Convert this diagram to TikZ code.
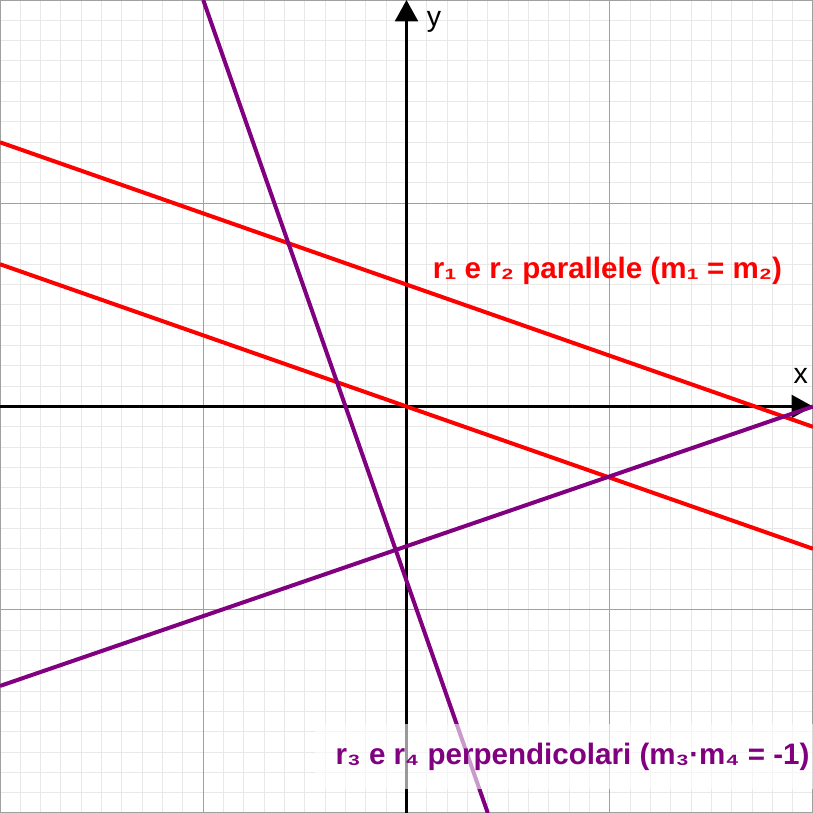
\documentclass[tikz,border=0pt]{standalone}
\usepackage{fontspec}
\setmainfont{Liberation Sans}
\usetikzlibrary{arrows.meta}
\definecolor{redline}{HTML}{FF0000}
\definecolor{purp}{HTML}{800080}
\definecolor{minorgrid}{HTML}{E8E8E8}
\definecolor{majorgrid}{HTML}{A0A0A0}
\tikzset{
  minorg/.style={draw=minorgrid, line width=0.7pt},
  majorg/.style={draw=majorgrid, line width=0.9pt},
  axisline/.style={draw=black, line width=2.1pt, -{Triangle[length=15pt,width=16pt]}},
  redl/.style={draw=redline, line width=2.8pt},
  purl/.style={draw=purp, line width=2.8pt},
  axlabel/.style={font=\fontsize{20}{20}\selectfont, inner sep=0pt},
  lab/.style={font=\bfseries\fontsize{20.7}{20.7}\selectfont, inner sep=0pt, anchor=base west}
}
\begin{document}
\begin{tikzpicture}[x=0.5cm,y=0.5cm]
\useasboundingbox (-20,-20) rectangle (20,20);
\begin{scope}
\clip (-20,-20) rectangle (20,20);
\draw[minorg] (-20,-20) grid[step=1] (20,20);
\draw[majorg] (-20,-20) grid[step=10] (20,20);
\coordinate (xl) at (-20,0);
\coordinate (xr) at (20,0);
\coordinate (yb) at (0,-20);
\coordinate (yt) at (0,20);
\draw[axisline] (xl) -- (xr);
\draw[axisline] (yb) -- (yt);
\coordinate (r1a) at (-20,13);
\coordinate (r1b) at (20,-1);
\coordinate (r2a) at (-20,7);
\coordinate (r2b) at (20,-7);
\coordinate (r3a) at (-10,20);
\coordinate (r3b) at (4,-20);
\coordinate (r4a) at (-20,-13.75);
\coordinate (r4b) at (20,0);
\draw[redl] (r1a) -- (r1b);
\draw[redl] (r2a) -- (r2b);
\draw[purl] (r3a) -- (r3b);
\draw[purl] (r4a) -- (r4b);
\fill[white, opacity=0.6] (-4.48,-15.62) rectangle (20,-18.82);
\end{scope}
\node[axlabel] (xlab) at (19.4,1.5) {x};
\node[axlabel] (ylab) at (1.35,18.9) {y};
\node[lab, text=redline] (lab1) at (1.28,6.3) {r₁ e r₂ parallele (m₁ = m₂)};
\node[lab, text=purp] (lab2) at (-3.5,-17.59) {r₃ e r₄ perpendicolari (m₃·m₄ = -1)};
\end{tikzpicture}
\end{document}
